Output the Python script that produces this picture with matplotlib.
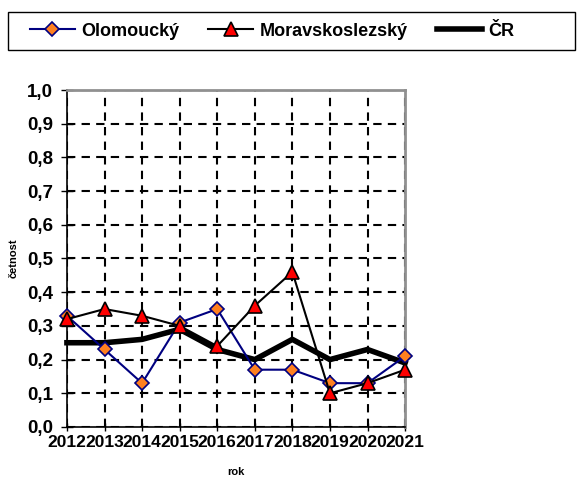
import matplotlib
matplotlib.use("Agg")
from matplotlib import pyplot as plt
from matplotlib.patches import Rectangle

years = [2012, 2013, 2014, 2015, 2016, 2017, 2018, 2019, 2020, 2021]
olomoucky = [0.33, 0.23, 0.13, 0.31, 0.35, 0.17, 0.17, 0.13, 0.13, 0.21]
moravskoslezsky = [0.32, 0.35, 0.33, 0.30, 0.24, 0.36, 0.46, 0.10, 0.13, 0.17]
cr = [0.25, 0.25, 0.26, 0.29, 0.23, 0.20, 0.26, 0.20, 0.23, 0.19]
yticks = [0.0, 0.1, 0.2, 0.3, 0.4, 0.5, 0.6, 0.7, 0.8, 0.9, 1.0]

plt.rcParams["font.family"] = ["Liberation Sans", "DejaVu Sans"]
plt.rcParams["font.weight"] = "bold"

fig = plt.figure(figsize=(5.82, 4.79), dpi=100)
ax = fig.add_axes([0.115, 0.1086, 0.581, 0.7035])

# lines
ax.plot(years, cr, color="black", lw=4, label="ČR", zorder=3, clip_on=False)
ax.plot(years, olomoucky, color="#000080", lw=1.5, marker="D", ms=7,
        mfc="#ff8020", mec="#000080", mew=1.2, label="Olomoucký", zorder=4, clip_on=False)
ax.plot(years, moravskoslezsky, color="black", lw=1.5, marker="^", ms=10,
        mfc="#ff0000", mec="black", mew=1.2, label="Moravskoslezský", zorder=5, clip_on=False)

ax.set_xlim(years[0], years[-1])
ax.set_ylim(0, 1)
ax.set_xticks(years)
ax.set_xticklabels([str(y) for y in years], fontsize=12.5, fontweight="bold")
ax.set_yticks(yticks)
ax.set_yticklabels([f"{v:.1f}".replace(".", ",") for v in yticks], fontsize=13.5, fontweight="bold")
ax.tick_params(axis="x", direction="inout", length=6, width=1, pad=3)
ax.tick_params(axis="y", direction="inout", length=8, width=1, pad=6)

ax.grid(True, color="black", linestyle=(0, (4, 3)), lw=1.5)
ax.set_axisbelow(True)
for s in ["top", "right"]:
    ax.spines[s].set_color("#909090")
    ax.spines[s].set_linewidth(2)
for s in ["left", "bottom"]:
    ax.spines[s].set_color("black")
    ax.spines[s].set_linewidth(1.2)

ax.set_xlabel("rok", fontsize=8, fontweight="bold", labelpad=12)
ax.set_ylabel("četnost", fontsize=8, fontweight="bold", labelpad=6)

# legend box
fig.patches.append(Rectangle((8 / 582, 1 - 50 / 479), 567 / 582, 38 / 479,
                             transform=fig.transFigure, fill=False,
                             edgecolor="black", lw=1))
handles, labels = ax.get_legend_handles_labels()
order = [1, 2, 0]
leg = fig.legend([handles[i] for i in order], [labels[i] for i in order],
                 loc="center", bbox_to_anchor=(272 / 582, 1 - 31 / 479),
                 ncol=3, frameon=False, handlelength=2.5,
                 borderaxespad=0, handletextpad=0.35, columnspacing=1.6,
                 prop={"weight": "bold", "size": 13})

fig.savefig("out.png", dpi=100)
